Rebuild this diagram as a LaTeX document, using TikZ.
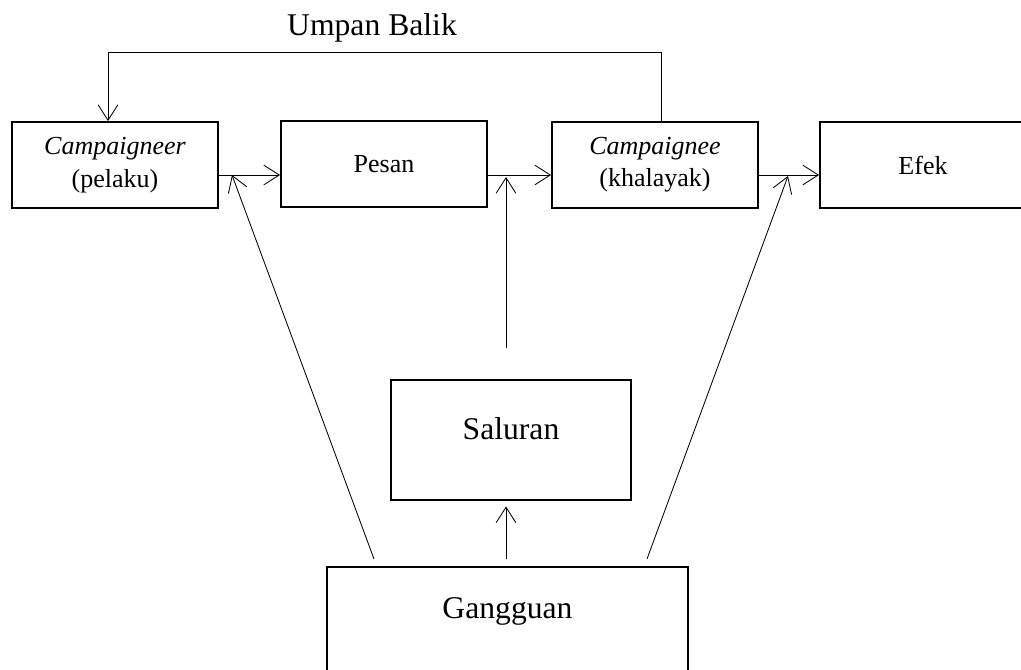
\documentclass[tikz,border=0pt]{standalone}
\usepackage{fontspec}
\setmainfont{Liberation Serif}
\usetikzlibrary{arrows.meta}

\begin{document}
\begin{tikzpicture}[x=0.025cm,y=-0.025cm,
    kotak/.style={draw,line width=1.3pt,minimum width=5.15cm,minimum height=2.15cm,inner sep=0pt,align=center,font=\fontsize{18.5}{23}\selectfont},
    besar/.style={draw,line width=1.3pt,inner sep=0pt,anchor=north,font=\fontsize{22.5}{27}\selectfont},
    panah/.style={-{Straight Barb[length=11pt,width=14pt]},line width=0.6pt}]
				\useasboundingbox (0,0) rectangle (1021,670);
				\node[kotak] (pelaku) at (115,165) {\textit{Campaigneer}\\(pelaku)};
				\node[kotak] (pesan) at (384,164) {Pesan};
				\node[kotak] (khalayak) at (655,165) {\textit{Campaignee}\\(khalayak)};
				\node[kotak] (efek) at (923,165) {Efek};
				\node[besar,minimum width=6cm,text height=42.7pt,text depth=42.6pt] (saluran) at (511,379) {Saluran};
				\node[besar,minimum width=9.025cm,text height=37pt,text depth=80pt] (gangguan) at (507.5,566) {Gangguan};
				\node[font=\fontsize{22.5}{27}\selectfont] (umpan) at (372,28) {Umpan Balik};
				\coordinate (t1) at (232,175);
				\coordinate (t2) at (506,177);
				\coordinate (t3) at (788,176);
				\coordinate (s1) at (506,348);
				\coordinate (g1) at (374,559);
				\coordinate (g2) at (506,559);
				\coordinate (g3) at (647,559);
				\coordinate (k1) at (661,52);
				\coordinate (k2) at (108,52);
				\draw[panah] (pelaku.east |- t1) -- (pesan.west |- t1);
				\draw[panah] (pesan.east |- t1) -- (khalayak.west |- t1);
				\draw[panah] (khalayak.east |- t1) -- (efek.west |- t1);
				\draw[panah] (g1) -- (t1);
				\draw[panah] (s1) -- (t2);
				\draw[panah] (g3) -- (t3);
				\draw[panah,shorten >=4pt] (g2) -- (g2 |- saluran.south);
				\draw[panah] (khalayak.north -| k1) |- (k2) -- (k2 |- pelaku.north);
			\end{tikzpicture}
\end{document}
